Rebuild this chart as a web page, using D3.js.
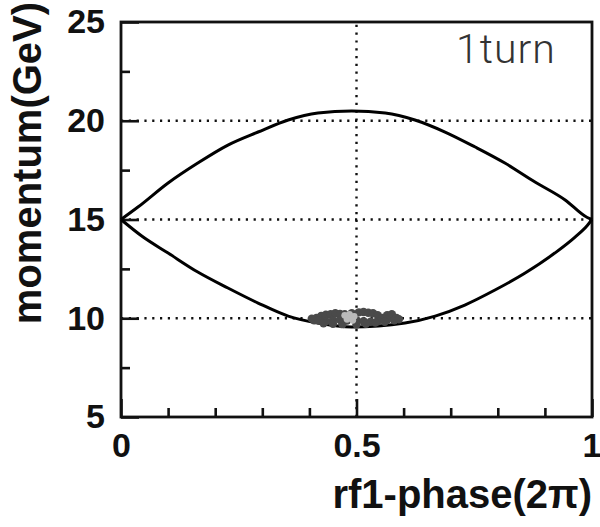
<!DOCTYPE html>
<html>
<head>
<meta charset="utf-8">
<script src="https://cdn.jsdelivr.net/npm/d3@7"></script>
<style>
    body { margin: 0; background: #fff; }
    svg { display: block; }
    .tick text { font-family: "Liberation Sans", Arial, sans-serif; font-weight: bold; }
</style>
</head>
<body>
<div id="chart-area"></div>
<script>
// separatrix (phase in units of 2pi, momentum in GeV)
const upperPhase = [0, 0.036, 0.1, 0.163, 0.227, 0.291, 0.355, 0.418, 0.49, 0.561, 0.624, 0.688, 0.752, 0.815, 0.879, 0.943, 0.99, 1];
const upperP     = [15.0, 15.63, 16.85, 17.86, 18.77, 19.43, 20.04, 20.39, 20.49, 20.39, 20.04, 19.43, 18.67, 17.86, 16.9, 15.99, 15.1, 15.0];

const lowerPhase = [0, 0.047, 0.1, 0.163, 0.227, 0.291, 0.355, 0.418, 0.49, 0.603, 0.667, 0.73, 0.794, 0.858, 0.921, 0.964, 0.99, 1];
const lowerP     = [15.0, 14.11, 13.3, 12.34, 11.53, 10.77, 10.11, 9.76, 9.56, 9.76, 10.11, 10.67, 11.43, 12.29, 13.3, 14.11, 14.7, 15.0];

// beam particles after 1 turn
const beamPhase = [0.405, 0.415, 0.425, 0.435, 0.445, 0.455, 0.465, 0.475, 0.49, 0.505, 0.515, 0.525, 0.535, 0.545, 0.555, 0.565, 0.575, 0.585,
                   0.41, 0.42, 0.435, 0.45, 0.465, 0.48, 0.5, 0.515, 0.53, 0.545, 0.565, 0.58, 0.59,
                   0.43, 0.45, 0.47, 0.5, 0.52, 0.54, 0.56];
const beamP     = [9.98, 10.02, 10.12, 10.18, 10.2, 10.25, 10.22, 10.2, 10.25, 10.3, 10.32, 10.28, 10.25, 10.15, 10.02, 10.15, 10.2, 10.02,
                   9.9, 9.88, 9.85, 9.9, 9.92, 9.88, 9.9, 9.85, 9.82, 9.85, 9.92, 9.9, 9.95,
                   9.75, 9.72, 9.7, 9.68, 9.72, 9.78, 9.82];
// lighter (less dense) patch
const haloPhase = [0.475, 0.485, 0.495, 0.48, 0.492];
const haloP     = [10.15, 10.2, 10.1, 9.95, 9.9];

const xMajor = [0, 0.5, 1];
const xMinor = [0.1, 0.2, 0.3, 0.4, 0.6, 0.7, 0.8, 0.9];
const yMajor = [5, 10, 15, 20, 25];
const yMinor = [7.5, 12.5, 17.5, 22.5];
const gridX = [0.5];
const gridY = [10, 15, 20];

const WIDTH = 600, HEIGHT = 527;
const MARGIN = {top: 22, right: 8, bottom: 110, left: 121};
const w = WIDTH - MARGIN.left - MARGIN.right;
const h = HEIGHT - MARGIN.top - MARGIN.bottom;

const svg = d3.select('#chart-area').append('svg')
    .attr('width', WIDTH)
    .attr('height', HEIGHT);

const g = svg.append('g')
    .attr('transform', `translate(${MARGIN.left}, ${MARGIN.top})`);

const x = d3.scaleLinear().domain([0, 1]).range([0, w]);
const y = d3.scaleLinear().domain([5, 25]).range([h, 0]);

// dotted grid
g.selectAll('.grid-h').data(gridY).enter().append('line')
    .attr('x1', 0).attr('x2', w)
    .attr('y1', d => y(d)).attr('y2', d => y(d))
    .attr('stroke', '#111').attr('stroke-width', 2.4)
    .attr('stroke-dasharray', '2.2,5.6');
g.selectAll('.grid-v').data(gridX).enter().append('line')
    .attr('x1', d => x(d)).attr('x2', d => x(d))
    .attr('y1', h).attr('y2', 0)
    .attr('stroke', '#111').attr('stroke-width', 2.4)
    .attr('stroke-dasharray', '2.2,5.6');

// axes, ticks pointing inwards
const yAxis = g.append('g').attr('class', 'y-axis')
    .call(d3.axisLeft(y).tickValues(yMajor).tickSizeInner(-18).tickSizeOuter(0).tickPadding(16));
const yAxisMinor = g.append('g')
    .call(d3.axisLeft(y).tickValues(yMinor).tickSizeInner(-9).tickSizeOuter(0).tickFormat(''));
const xAxis = g.append('g').attr('class', 'x-axis')
    .attr('transform', `translate(0, ${h})`)
    .call(d3.axisBottom(x).tickValues(xMajor).tickSizeInner(-18).tickSizeOuter(0).tickPadding(16).tickFormat(d3.format('')));
const xAxisMinor = g.append('g')
    .attr('transform', `translate(0, ${h})`)
    .call(d3.axisBottom(x).tickValues(xMinor).tickSizeInner(-9).tickSizeOuter(0).tickFormat(''));

[yAxis, yAxisMinor, xAxis, xAxisMinor].forEach(a => {
    a.select('.domain').remove();
    a.selectAll('line').attr('stroke', '#111').attr('stroke-width', 2.6);
    a.selectAll('text').attr('fill', '#111').attr('font-size', 34);
});
// the last x label sits at the window edge, keep it inside
xAxis.selectAll('.tick text').filter(d => d === 1)
    .attr('text-anchor', 'end').attr('dx', 9);

// frame
g.append('rect')
    .attr('width', w).attr('height', h)
    .attr('fill', 'none')
    .attr('stroke', '#111').attr('stroke-width', 2.8);

// separatrix
const line = d3.line()
    .x(d => x(d[0]))
    .y(d => y(d[1]))
    .curve(d3.curveMonotoneX);

g.append('path')
    .datum(d3.zip(upperPhase, upperP))
    .attr('d', line)
    .attr('fill', 'none').attr('stroke', '#000').attr('stroke-width', 3);
g.append('path')
    .datum(d3.zip(lowerPhase, lowerP))
    .attr('d', line)
    .attr('fill', 'none').attr('stroke', '#000').attr('stroke-width', 3);

// particles
g.selectAll('.beam').data(d3.zip(beamPhase, beamP)).enter().append('circle')
    .attr('cx', d => x(d[0])).attr('cy', d => y(d[1]))
    .attr('r', 4.2)
    .attr('fill', '#4a4a4a');
g.selectAll('.halo').data(d3.zip(haloPhase, haloP)).enter().append('circle')
    .attr('cx', d => x(d[0])).attr('cy', d => y(d[1]))
    .attr('r', 3.4)
    .attr('fill', '#bbb');

// labels
svg.append('text')
    .attr('transform', `translate(41, 163) rotate(-90)`)
    .attr('text-anchor', 'middle')
    .attr('font-family', '"Liberation Sans", Arial, sans-serif')
    .attr('font-weight', 'bold')
    .attr('font-size', 40)
    .attr('fill', '#111')
    .text('momentum(GeV)');

svg.append('text')
    .attr('x', 592)
    .attr('y', 508)
    .attr('text-anchor', 'end')
    .attr('font-family', '"Liberation Sans", Arial, sans-serif')
    .attr('font-weight', 'bold')
    .attr('font-size', 40)
    .attr('fill', '#111')
    .text('rf1-phase(2π)');

svg.append('text')
    .attr('x', 456)
    .attr('y', 63)
    .attr('font-family', 'Roboto, sans-serif')
    .attr('font-weight', 300)
    .attr('font-size', 41)
    .attr('letter-spacing', 1)
    .attr('fill', '#333')
    .text('1turn');
</script>
</body>
</html>
